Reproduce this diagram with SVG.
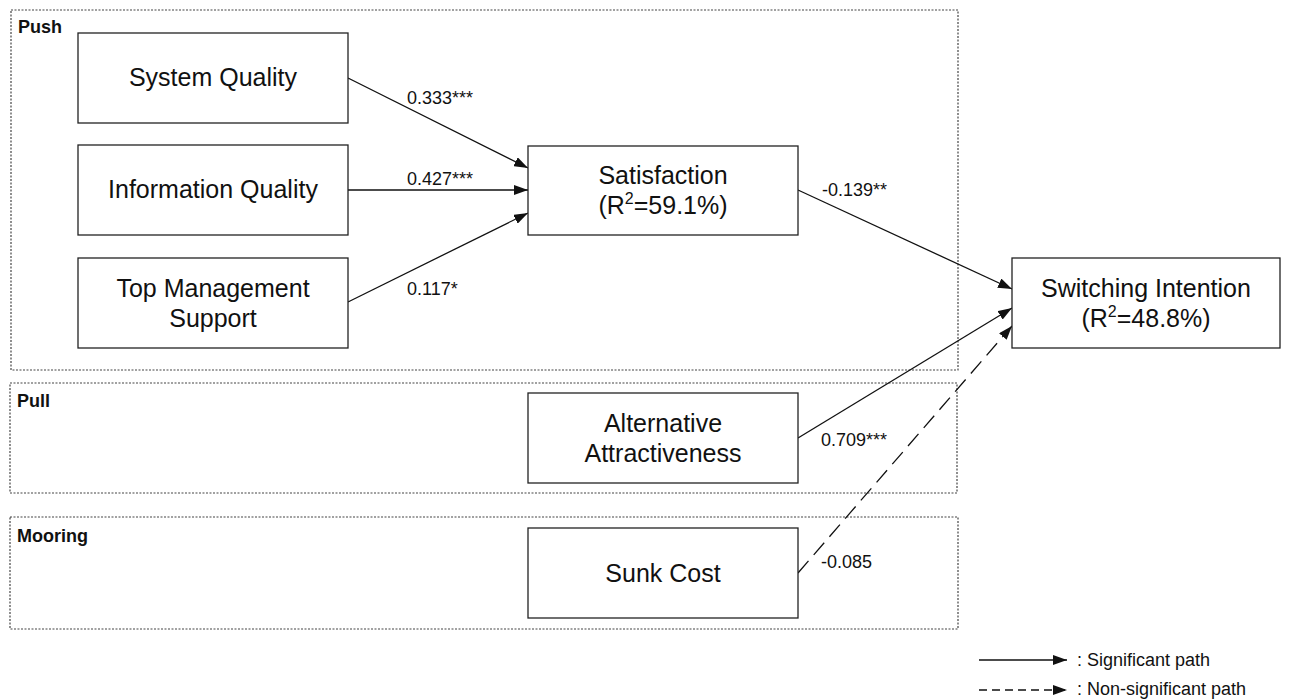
<svg xmlns="http://www.w3.org/2000/svg" width="1290" height="700" viewBox="0 0 1290 700">
<style>
.grp{fill:none;stroke:#444;stroke-width:1.2;stroke-dasharray:2 1.5}
.box{fill:#fff;stroke:#222;stroke-width:1.3}
.gl{font-family:"Liberation Sans",Arial,sans-serif;font-weight:bold;font-size:18px;fill:#111}
.nt{font-family:"Liberation Sans",Arial,sans-serif;font-size:25px;fill:#111;text-anchor:middle}
.el{font-family:"Liberation Sans",Arial,sans-serif;font-size:18px;fill:#111}
.ln{fill:none;stroke:#111;stroke-width:1.3}
.dash{stroke-dasharray:16 8}
</style>
<defs>
<marker id="ah" viewBox="0 0 14 10" refX="14" refY="5" markerWidth="14" markerHeight="10" markerUnits="userSpaceOnUse" orient="auto">
<path d="M0,0 L14,5 L0,10 Z" fill="#111"/>
</marker>
</defs>
<g id="groups">
<rect class="grp" x="11" y="10" width="947" height="360"/>
<text class="gl" x="18" y="33">Push</text>
<rect class="grp" x="10" y="383" width="947" height="110"/>
<text class="gl" x="17" y="407">Pull</text>
<rect class="grp" x="10" y="517" width="948" height="112"/>
<text class="gl" x="17" y="542">Mooring</text>
</g>
<g id="connectors">
<line class="ln" x1="348" y1="78" x2="528" y2="168" marker-end="url(#ah)"/>
<line class="ln" x1="348" y1="190" x2="528" y2="190" marker-end="url(#ah)"/>
<line class="ln" x1="348" y1="302" x2="528" y2="213" marker-end="url(#ah)"/>
<line class="ln" x1="798" y1="190" x2="1012" y2="289" marker-end="url(#ah)"/>
<line class="ln" x1="798" y1="438" x2="1012" y2="308" marker-end="url(#ah)"/>
<line class="ln dash" x1="798" y1="573" x2="1012" y2="326" marker-end="url(#ah)"/>
<text class="el" x="407" y="104">0.333***</text>
<text class="el" x="407" y="185">0.427***</text>
<text class="el" x="407" y="295">0.117*</text>
<text class="el" x="822" y="196">-0.139**</text>
<text class="el" x="821" y="446">0.709***</text>
<text class="el" x="821" y="568">-0.085</text>
</g>
<g id="n-system-quality">
<rect class="box" x="78" y="33" width="270" height="90"/>
<text class="nt" x="213" y="86">System Quality</text>
</g>
<g id="n-information-quality">
<rect class="box" x="78" y="145" width="270" height="90"/>
<text class="nt" x="213" y="198">Information Quality</text>
</g>
<g id="n-top-management-support">
<rect class="box" x="78" y="258" width="270" height="90"/>
<text class="nt" x="213" y="297">Top Management</text>
<text class="nt" x="213" y="327">Support</text>
</g>
<g id="n-satisfaction">
<rect class="box" x="528" y="146" width="270" height="89"/>
<text class="nt" x="663" y="184">Satisfaction</text>
<text class="nt" x="663" y="214">(R<tspan dy="-10" font-size="16">2</tspan><tspan dy="10">=59.1%)</tspan></text>
</g>
<g id="n-switching-intention">
<rect class="box" x="1012" y="258" width="268" height="90"/>
<text class="nt" x="1146" y="297">Switching Intention</text>
<text class="nt" x="1146" y="327">(R<tspan dy="-10" font-size="16">2</tspan><tspan dy="10">=48.8%)</tspan></text>
</g>
<g id="n-alternative-attractiveness">
<rect class="box" x="528" y="393" width="270" height="90"/>
<text class="nt" x="663" y="432">Alternative</text>
<text class="nt" x="663" y="462">Attractiveness</text>
</g>
<g id="n-sunk-cost">
<rect class="box" x="528" y="528" width="270" height="90"/>
<text class="nt" x="663" y="582">Sunk Cost</text>
</g>
<g id="legend">
<line class="ln" x1="979" y1="660" x2="1067" y2="660" marker-end="url(#ah)"/>
<text class="el" x="1077" y="666" font-size="18.5">: Significant path</text>
<line class="ln" x1="979" y1="690" x2="1067" y2="690" stroke-dasharray="8 5" marker-end="url(#ah)"/>
<text class="el" x="1077" y="695" font-size="18.5">: Non-significant path</text>
</g>
</svg>
